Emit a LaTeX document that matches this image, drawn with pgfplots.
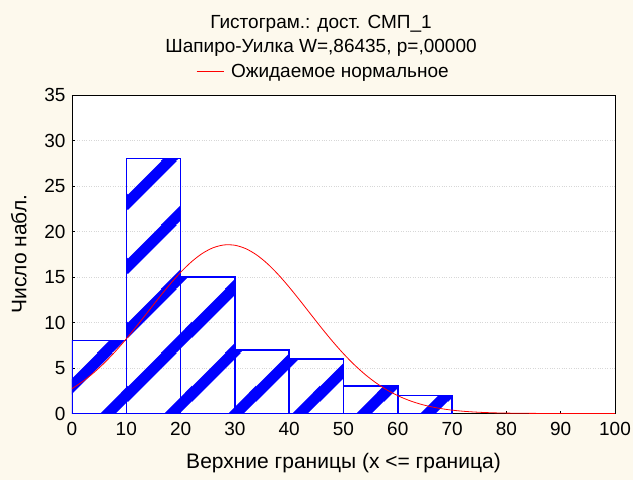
\documentclass[border=0pt]{standalone}
\usepackage{pgfplots}
\pgfplotsset{compat=1.18}
\usetikzlibrary{patterns}
\usepackage{fontspec}
\setmainfont{Liberation Sans}
\definecolor{cream}{RGB}{253,249,237}
\definecolor{gridgray}{RGB}{215,215,215}
\pgfdeclarepatternformonly{bigstripes}{\pgfpoint{0pt}{0pt}}{\pgfpoint{64pt}{64pt}}{\pgfpoint{64pt}{64pt}}{
  \pgfsetlinewidth{11pt}
  \pgfpathmoveto{\pgfpoint{-64pt}{-42pt}}\pgfpathlineto{\pgfpoint{128pt}{150pt}}
  \pgfpathmoveto{\pgfpoint{-64pt}{-106pt}}\pgfpathlineto{\pgfpoint{128pt}{86pt}}
  \pgfpathmoveto{\pgfpoint{-64pt}{22pt}}\pgfpathlineto{\pgfpoint{128pt}{214pt}}
  \pgfusepath{stroke}}
\begin{document}
\begin{tikzpicture}
\fill[cream] (-72pt,-66.5pt) rectangle (561pt,413.5pt);
\begin{axis}[
  scale only axis,
  width=543pt, height=318.5pt,
  xmin=0, xmax=100, ymin=0, ymax=35,
  xtick={0,10,...,100}, ytick={0,5,...,35},
  tick pos=left, tick align=inside,
  major tick length=3pt,
  tick style={black, line width=0.6pt},
  axis line style={black, line width=0.8pt},
  axis background/.style={fill=white},
  ymajorgrids, grid style={gridgray, dotted, line width=0.8pt},
  /pgf/number format/assume math mode=true,
  ticklabel style={font=\fontsize{19}{21}\selectfont},
  xticklabel style={yshift=-5pt},
  yticklabel style={xshift=-3pt},
  xlabel={Верхние границы (x <= граница)},
  ylabel={Число набл.},
  label style={font=\fontsize{21}{23}\selectfont},
  xlabel style={yshift=-11pt},
  ylabel style={yshift=11pt},
  legend style={draw=none, fill=none, at={(axis description cs:0.2284,1)}, anchor=west, yshift=23.3pt, inner sep=0pt, font=\fontsize{19}{21}\selectfont},
  legend image code/.code={\draw[red, line width=0.8pt] (0pt,0pt) -- (27pt,0pt);},
  /tikz/every even column/.append style={column sep=0pt},
]
\addplot[ybar interval, draw=blue, line width=1.5pt, pattern=bigstripes, pattern color=blue, forget plot]
  coordinates {(0,8) (10,28) (20,15) (30,7) (40,6) (50,3) (60,2) (70,0)};
\addplot[red, line width=0.8pt, smooth] coordinates {
(0,2.731) (2,3.531) (4,4.482) (6,5.584) (8,6.830) (10,8.201) (12,9.666) (14,11.185)
(16,12.707) (18,14.170) (20,15.512) (22,16.671) (24,17.589) (26,18.217) (28,18.523)
(30,18.488) (32,18.116) (34,17.427) (36,16.457) (38,15.256) (40,13.884) (42,12.405)
(44,10.880) (46,9.367) (48,7.918) (50,6.570) (52,5.352) (54,4.279) (56,3.360)
(58,2.589) (60,1.959) (62,1.455) (64,1.061) (66,0.759) (68,0.534) (70,0.368)
(72,0.249) (74,0.166) (76,0.108) (78,0.069) (80,0.0436) (85,0.0126) (90,0.0032)
(95,0.0007) (100,0.0001)};
\addlegendentry{\hspace{5pt}Ожидаемое нормальное}
\end{axis}
\node[font=\fontsize{19}{21}\selectfont, anchor=base] at (249pt,384.5pt) {Гистограм.: дост. СМП\_1};
\node[font=\fontsize{19}{21}\selectfont, anchor=base] at (249pt,360.5pt) {Шапиро-Уилка W=,86435, p=,00000};
\pgfresetboundingbox
\path (-72pt,-66.5pt) rectangle (561pt,413.5pt);
\end{tikzpicture}
\end{document}
